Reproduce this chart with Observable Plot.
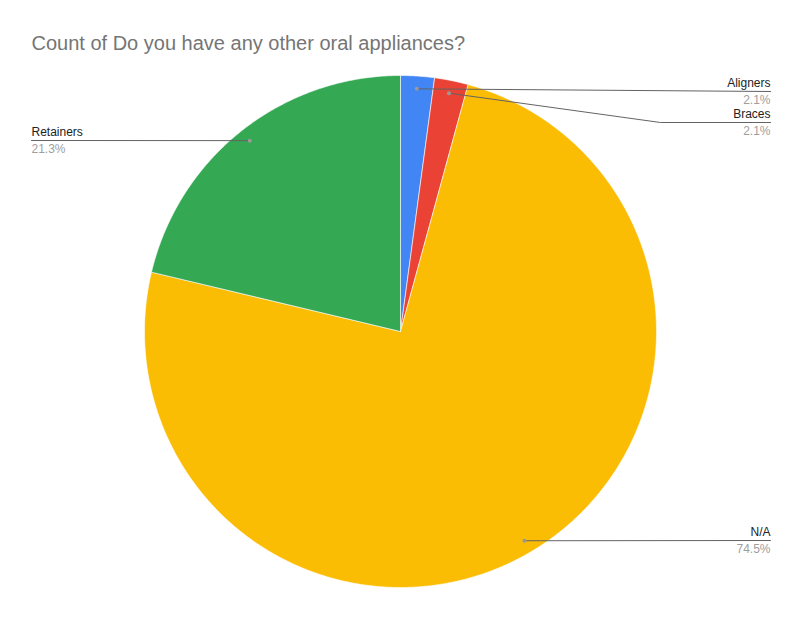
<!DOCTYPE html>
<html>
<head>
<meta charset="utf-8">
<script src="https://cdn.jsdelivr.net/npm/d3@7"></script>
<script src="https://cdn.jsdelivr.net/npm/@observablehq/plot@0.6"></script>
<style>
  html, body { margin: 0; padding: 0; background: #fff; overflow: hidden; }
  #chart svg { display: block; }
</style>
</head>
<body>
<div id="chart"></div>
<script>
// datos del grafico
const labels = ["Aligners", "Braces", "N/A", "Retainers"];
const counts = [1, 1, 35, 10];
const colors = ["#4285f4", "#ea4335", "#fbbc04", "#34a853"];
const title = "Count of Do you have any other oral appliances?";

// layout (pixeles)
const W = 801, H = 618;
const cx = 400, cy = 331, R = 256;
// donde termina cada linea guia y va la etiqueta
const labelPos = {
  "Aligners":  {x: 770, y: 91, bend: null, anchor: "end"},
  "Braces":    {x: 770, y: 122, bend: 660, anchor: "end"},
  "N/A":       {x: 770, y: 540, bend: null, anchor: "end"},
  "Retainers": {x: 31,  y: 140, bend: null, anchor: "start"}
};

const total = d3.sum(counts);
const data = labels.map((l, i) => ({label: l, count: counts[i], pct: counts[i] / total}));
const arcs = d3.pie().sort(null).value(d => d.count)(data);

const pt = (a, r) => [cx + r * Math.sin(a), cy - r * Math.cos(a)];

// poligonos de cada porcion
let slicePts = [];
arcs.forEach(a => {
  slicePts.push({label: a.data.label, x: cx, y: cy});
  const n = Math.max(2, Math.ceil((a.endAngle - a.startAngle) / (Math.PI / 360)));
  for (let k = 0; k <= n; k++) {
    const ang = a.startAngle + (a.endAngle - a.startAngle) * k / n;
    const [x, y] = pt(ang, R);
    slicePts.push({label: a.data.label, x, y});
  }
  slicePts.push({label: a.data.label, x: cx, y: cy});
});

// lineas guia
let dots = [], guides = [], texts = [];
arcs.forEach(a => {
  const mid = (a.startAngle + a.endAngle) / 2;
  const [x, y] = pt(mid, R * 0.95);
  const p = labelPos[a.data.label];
  dots.push({x, y});
  guides.push({label: a.data.label, x, y});
  if (p.bend != null) guides.push({label: a.data.label, x: p.bend, y: p.y});
  guides.push({label: a.data.label, x: p.x, y: p.y});
  texts.push({x: p.x, y: p.y - 8, t: a.data.label, c: "#222222", anchor: p.anchor});
  texts.push({x: p.x, y: p.y + 9, t: d3.format(".1%")(a.data.pct), c: "#9e9e9e", anchor: p.anchor});
});

const chart = Plot.plot({
  width: W,
  height: H,
  margin: 0,
  x: {domain: [0, W], axis: null},
  y: {domain: [H, 0], axis: null},
  color: {domain: labels, range: colors},
  style: {fontFamily: "Arial, 'Liberation Sans', sans-serif"},
  marks: [
    Plot.line(slicePts, {x: "x", y: "y", z: "label", fill: "label", stroke: "#ffffff", strokeWidth: 0.6, curve: "linear"}),
    Plot.line(guides, {x: "x", y: "y", z: "label", stroke: "#636363", strokeWidth: 1}),
    Plot.dot(dots, {x: "x", y: "y", r: 2, fill: "#999999", stroke: null}),
    Plot.text(texts.filter(d => d.anchor == "end"), {x: "x", y: "y", text: "t", fill: "c", textAnchor: "end", fontSize: 12}),
    Plot.text(texts.filter(d => d.anchor == "start"), {x: "x", y: "y", text: "t", fill: "c", textAnchor: "start", fontSize: 12}),
    Plot.text([title], {x: 31, y: 43, text: d => d, textAnchor: "start", fontSize: 20, fill: "#757575"})
  ]
});

d3.select("#chart").append(() => chart);
</script>
</body>
</html>
